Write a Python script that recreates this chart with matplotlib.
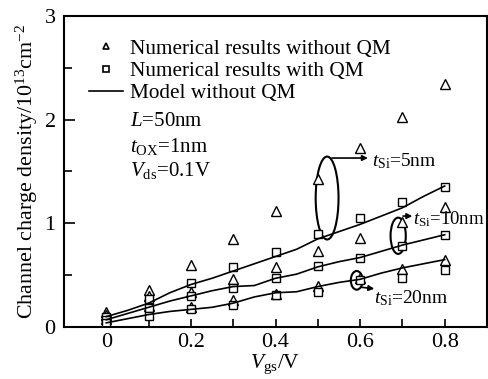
import matplotlib
matplotlib.use("Agg")
import matplotlib.pyplot as plt
from matplotlib.patches import Ellipse
from matplotlib.lines import Line2D
import numpy as np

plt.rcParams['font.family'] = ['Liberation Serif', 'DejaVu Serif']
plt.rcParams['mathtext.fontset'] = 'custom'
plt.rcParams['mathtext.rm'] = 'Liberation Serif'
plt.rcParams['mathtext.it'] = 'Liberation Serif:italic'

# data points (numerical)
vgs = [0.0, 0.1, 0.2, 0.3, 0.4, 0.5, 0.6, 0.7, 0.8]
tri_5nm = [0.14, 0.36, 0.60, 0.85, 1.12, 1.43, 1.73, 2.03, 2.34]
tri_10nm = [0.12, 0.30, 0.34, 0.46, 0.58, 0.73, 0.86, 1.01, 1.16]
tri_20nm = [0.08, 0.20, 0.19, 0.26, 0.32, 0.40, 0.47, 0.56, 0.65]
sq_5nm = [0.10, 0.27, 0.42, 0.58, 0.72, 0.90, 1.05, 1.21, 1.35]
sq_10nm = [0.07, 0.18, 0.30, 0.38, 0.47, 0.59, 0.67, 0.78, 0.89]
sq_20nm = [0.04, 0.11, 0.17, 0.21, 0.31, 0.34, 0.45, 0.47, 0.55]

# model curves (without QM)
vm = [0.0, 0.05, 0.1, 0.15, 0.2, 0.25, 0.3, 0.35, 0.4, 0.45, 0.5, 0.55, 0.6, 0.65, 0.7, 0.75, 0.8]
model_5nm = [0.10, 0.16, 0.23, 0.33, 0.41, 0.47, 0.54, 0.61, 0.68, 0.75, 0.85, 0.92, 0.99, 1.07, 1.15, 1.26, 1.36]
model_10nm = [0.07, 0.13, 0.19, 0.25, 0.30, 0.35, 0.39, 0.40, 0.47, 0.51, 0.58, 0.63, 0.67, 0.73, 0.79, 0.84, 0.89]
model_20nm = [0.04, 0.08, 0.12, 0.15, 0.17, 0.19, 0.23, 0.29, 0.33, 0.34, 0.39, 0.43, 0.46, 0.52, 0.57, 0.61, 0.65]

labels = ['Numerical results without QM', 'Numerical results with QM', 'Model without QM']

fig = plt.figure(figsize=(4.89, 3.79), dpi=100)
ax = fig.add_axes([0.1309, 0.1372, 0.8650, 0.8206])

ms = 7
for t in (tri_5nm, tri_10nm, tri_20nm):
    ax.plot(vgs, t, linestyle='none', marker='^', ms=ms, mfc='white', mec='black', mew=1.0)
for s in (sq_5nm, sq_10nm, sq_20nm):
    ax.plot(vgs, s, linestyle='none', marker='s', ms=ms - 1, mfc='white', mec='black', mew=1.0)
for m in (model_5nm, model_10nm, model_20nm):
    ax.plot(vm, m, color='black', lw=1.2)

handles = [Line2D([], [], linestyle='none', marker='^', ms=5, mfc='white', mec='black', mew=1.2),
           Line2D([], [], linestyle='none', marker='s', ms=4.5, mfc='white', mec='black', mew=1.2),
           Line2D([], [], color='black', lw=1.2)]
ax.legend(handles, labels, loc='upper left', bbox_to_anchor=(0.035, 0.96), frameon=False,
          fontsize=15.3, handlelength=1.6, handletextpad=0.3, labelspacing=0.11, borderpad=0.0)

ax.text(0.055, 1.98, r'$L$=50nm', fontsize=15, va='center')
ax.text(0.055, 1.74, r'$t_{\rm OX}$=1nm', fontsize=15, va='center')
ax.text(0.055, 1.51, r'$V_{\rm ds}$=0.1V', fontsize=15, va='center')

# annotations
ax.add_patch(Ellipse((0.522, 1.244), 0.054, 0.80, fill=False, ec='black', lw=1.5))
ax.annotate('', xy=(0.625, 1.63), xytext=(0.527, 1.63),
            arrowprops=dict(arrowstyle='-|>', color='black', lw=1.2, mutation_scale=8))
ax.text(0.627, 1.60, r'$t_{\rm Si}$=5nm', fontsize=14, va='center')

ax.add_patch(Ellipse((0.690, 0.88), 0.036, 0.35, fill=False, ec='black', lw=1.5))
ax.annotate('', xy=(0.73, 1.07), xytext=(0.695, 1.07),
            arrowprops=dict(arrowstyle='-|>', color='black', lw=1.2, mutation_scale=8))
ax.text(0.726, 1.04, r'$t_{\rm Si}$=10nm', fontsize=13.5, va='center')

ax.add_patch(Ellipse((0.592, 0.45), 0.028, 0.18, fill=False, ec='black', lw=1.5))
ax.annotate('', xy=(0.64, 0.366), xytext=(0.597, 0.386),
            arrowprops=dict(arrowstyle='-|>', color='black', lw=1.2, mutation_scale=8))
ax.text(0.632, 0.28, r'$t_{\rm Si}$=20nm', fontsize=14, va='center')

ax.set_xlim(-0.1, 0.9)
ax.set_ylim(0, 3)
ax.set_xticks([0, 0.2, 0.4, 0.6, 0.8])
ax.set_xticklabels(['0', '0.2', '0.4', '0.6', '0.8'])
ax.set_xticks(np.arange(0, 0.85, 0.1), minor=True)
ax.set_yticks([0, 1, 2, 3])
ax.set_yticks([0.5, 1.5, 2.5], minor=True)
ax.tick_params(which='both', direction='in', labelsize=16, width=1.2)
ax.tick_params(which='major', length=8)
ax.tick_params(which='minor', length=6)
ax.tick_params(axis='x', which='major', length=6, pad=4)
ax.tick_params(axis='y', which='major', pad=6)
for sp in ax.spines.values():
    sp.set_linewidth(1.5)

ax.set_xlabel(r'$V_{\rm gs}$/V', fontsize=15.5, labelpad=1)
ax.set_ylabel(r'Channel charge density/10$^{13}$cm$^{-2}$', fontsize=15.8, labelpad=3)

fig.savefig('out.png', dpi=100)
